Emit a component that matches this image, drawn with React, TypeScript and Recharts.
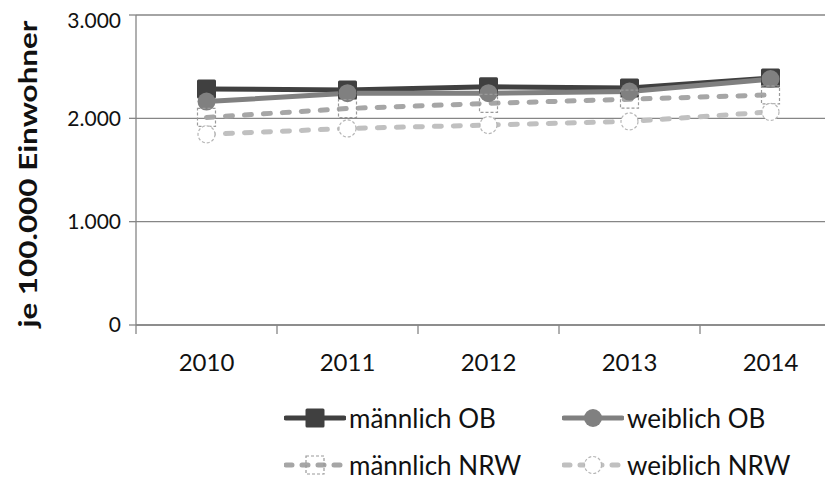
import { CartesianGrid, Label, Line, LineChart, XAxis, YAxis } from 'recharts';

const years = ['2010', '2011', '2012', '2013', '2014'];
const maleOB = [2285, 2275, 2305, 2294, 2390];
const femaleOB = [2162, 2243, 2243, 2259, 2380];
const maleNRW = [2009, 2095, 2145, 2185, 2227];
const femaleNRW = [1845, 1902, 1935, 1970, 2062];
const yTicks = [0, 1000, 2000, 3000];

const data = years.map((year, i) => ({
  year,
  maleOB: maleOB[i],
  femaleOB: femaleOB[i],
  maleNRW: maleNRW[i],
  femaleNRW: femaleNRW[i],
}));

const FONT = 'Lato, "Open Sans", sans-serif';
const CHART_W = 860;
const CHART_H = 474;
const MARGIN = { top: 7, right: 27, bottom: 97, left: 0 };
const Y_AXIS_W = 128;
const STEP = (CHART_W - MARGIN.left - MARGIN.right - Y_AXIS_W) / years.length;

type Marker = 'square' | 'circle';

const series: {
  key: string;
  name: string;
  color: string;
  dashed: boolean;
  marker: Marker;
}[] = [
  { key: 'maleOB', name: 'männlich OB', color: '#404040', dashed: false, marker: 'square' },
  { key: 'femaleOB', name: 'weiblich OB', color: '#808080', dashed: false, marker: 'circle' },
  { key: 'maleNRW', name: 'männlich NRW', color: '#a6a6a6', dashed: true, marker: 'square' },
  { key: 'femaleNRW', name: 'weiblich NRW', color: '#c0c0c0', dashed: true, marker: 'circle' },
];

function markerShape(cx: number, cy: number, s: (typeof series)[number], key?: number) {
  if (s.marker === 'square') {
    return s.dashed ? (
      <rect key={key} x={cx - 9} y={cy - 9} width={18} height={18} fill="none" stroke="#9a9a9a" strokeWidth={1.2} strokeDasharray="3 2" />
    ) : (
      <rect key={key} x={cx - 9.5} y={cy - 9.5} width={19} height={19} rx={1.5} fill={s.color} />
    );
  }
  return s.dashed ? (
    <circle key={key} cx={cx} cy={cy} r={8.5} fill="#fff" stroke="#b5b5b5" strokeWidth={1.2} strokeDasharray="3 2" />
  ) : (
    <circle key={key} cx={cx} cy={cy} r={9} fill={s.color} />
  );
}

function YearTick(props: any) {
  const { x, y, payload } = props;
  return (
    <g>
      <line x1={x - STEP / 2} x2={x - STEP / 2} y1={y} y2={y + 9} stroke="#868686" strokeWidth={1.3} />
      <text x={x} y={y + 46} textAnchor="middle" fontSize={24} fontFamily={FONT} fill="#111">
        {payload.value}
      </text>
    </g>
  );
}

// rotated axis title, stretched along its length like the original export
function AxisTitle(props: any) {
  const { viewBox } = props;
  const x = 29;
  const y = viewBox.y + viewBox.height / 2 + 4;
  return (
    <text
      x={x}
      y={y}
      transform={`rotate(-90 ${x} ${y})`}
      textAnchor="middle"
      fontSize={24}
      fontWeight={700}
      fontFamily={FONT}
      fill="#111"
      textLength={307}
      lengthAdjust="spacingAndGlyphs"
    >
      je 100.000 Einwohner
    </text>
  );
}

function LegendIcon({ s }: { s: (typeof series)[number] }) {
  return (
    <svg width={62} height={24} style={{ display: 'block' }}>
      <line
        x1={2}
        x2={60}
        y1={12}
        y2={12}
        stroke={s.color}
        strokeWidth={5}
        strokeLinecap="round"
        strokeDasharray={s.dashed ? '6 10' : undefined}
      />
      {markerShape(31, 12, s)}
    </svg>
  );
}

export default function App() {
  return (
    <div style={{ position: 'relative', width: 825, height: CHART_H, overflow: 'hidden' }}>
      <LineChart width={CHART_W} height={CHART_H} data={data} margin={MARGIN}>
        <CartesianGrid vertical={false} stroke="#868686" strokeWidth={1.3} />
        <XAxis
          dataKey="year"
          height={60}
          tickSize={0}
          tickMargin={0}
          tick={<YearTick />}
          padding={{ left: STEP / 2, right: STEP / 2 }}
          axisLine={{ stroke: '#868686', strokeWidth: 1.3 }}
          interval={0}
        />
        <YAxis
          width={Y_AXIS_W}
          domain={[0, 3000]}
          ticks={yTicks}
          tickFormatter={(v: number) => v.toLocaleString('de-DE')}
          tick={{ fontSize: 21, fontFamily: FONT, fill: '#111' }}
          tickSize={7}
          tickMargin={8}
          tickLine={{ stroke: '#868686', strokeWidth: 1.3 }}
          axisLine={{ stroke: '#868686', strokeWidth: 1.3 }}
        >
          <Label content={<AxisTitle />} />
        </YAxis>
        {series.map((s) => (
          <Line
            key={s.key}
            dataKey={s.key}
            name={s.name}
            stroke={s.color}
            strokeWidth={5}
            strokeLinecap="round"
            strokeDasharray={s.dashed ? '7 12' : undefined}
            dot={(p: any) => markerShape(p.cx, p.cy, s, p.index)}
            activeDot={false}
            isAnimationActive={false}
          />
        ))}
      </LineChart>
      <div
        style={{
          position: 'absolute',
          left: 276,
          top: 398,
          display: 'grid',
          gridTemplateColumns: '278px 260px',
          rowGap: 23,
          fontFamily: FONT,
          fontSize: 26,
          color: '#111',
        }}
      >
        {series.map((s) => (
          <div key={s.key} style={{ display: 'flex', alignItems: 'center', height: 24, gap: 3 }}>
            <LegendIcon s={s} />
            <span>{s.name}</span>
          </div>
        ))}
      </div>
    </div>
  );
}
